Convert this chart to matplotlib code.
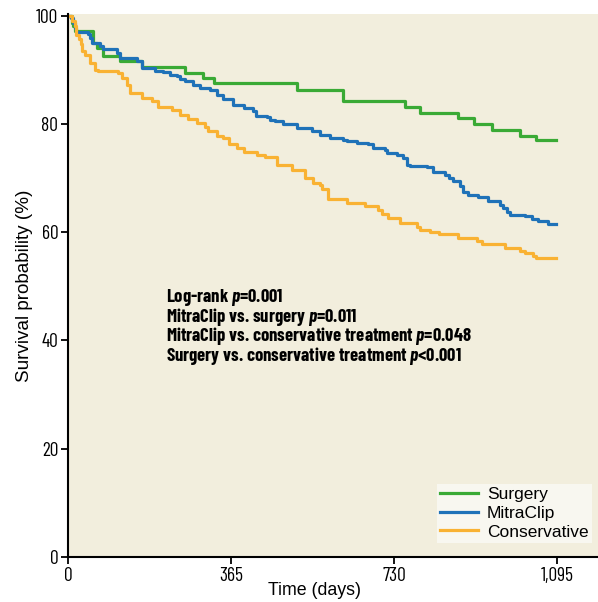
import matplotlib
matplotlib.use("Agg")
import matplotlib.pyplot as plt
from matplotlib import font_manager

# condensed face for ticks / annotation
names = set(f.name for f in font_manager.fontManager.ttflist)
narrow = "Barlow Condensed" if "Barlow Condensed" in names else "DejaVu Sans"
plain = "Liberation Sans"
plt.rcParams['mathtext.fontset'] = 'custom'
plt.rcParams['mathtext.it'] = narrow + ':italic:bold'
plt.rcParams['mathtext.rm'] = narrow + ':bold'

# Kaplan-Meier steps (day, survival %)
surgery_days = [0, 8, 12, 16, 57, 65, 79, 116, 165, 262, 302, 327, 512, 615,
                755, 788, 874, 910, 949, 1012, 1048, 1093]
surgery_surv = [100, 98.7, 98.1, 97.2, 95.0, 94.0, 92.6, 91.7, 90.5, 89.4, 88.5,
                87.5, 86.2, 84.3, 83.2, 82.0, 81.0, 79.9, 78.9, 77.8, 77.0, 77.0]

mitra_days = [0, 7, 12, 16, 19, 45, 49, 53, 72, 79, 109, 116, 154, 165, 195, 213,
              228, 243, 251, 262, 281, 296, 318, 333, 348, 370, 393, 415, 422, 445,
              452, 463, 482, 512, 546, 564, 587, 616, 624, 646, 672, 684, 710, 714,
              736, 751, 758, 766, 803, 818, 844, 852, 863, 878, 885, 896, 919, 941,
              967, 975, 982, 990, 1023, 1038, 1053, 1075, 1093]
mitra_surv = [100, 99.6, 98.7, 97.8, 97.0, 96.6, 95.9, 95.0, 94.3, 93.8, 93.1, 92.2,
              91.6, 90.3, 89.8, 89.5, 89.1, 88.9, 88.3, 88.0, 87.2, 86.6, 86.2, 85.4,
              84.6, 83.5, 82.9, 82.3, 81.5, 81.3, 80.8, 80.5, 80.0, 79.2, 78.6, 78.0,
              77.4, 77.1, 76.8, 76.5, 76.2, 75.5, 75.2, 74.7, 74.3, 73.7, 72.5, 72.3,
              72.0, 71.2, 70.6, 70.0, 69.4, 68.5, 67.5, 66.9, 66.5, 65.7, 65.1, 64.5,
              63.8, 63.2, 62.9, 62.4, 62.0, 61.6, 61.6]

cons_days = [0, 8, 16, 19, 25, 28, 31, 38, 49, 60, 68, 113, 120, 131, 139, 165, 187,
             202, 232, 251, 269, 288, 307, 314, 333, 348, 360, 378, 395, 423, 441,
             467, 501, 531, 549, 564, 568, 583, 624, 665, 695, 702, 717, 743, 781,
             788, 811, 831, 874, 915, 926, 979, 1012, 1023, 1042, 1049, 1093]
cons_surv = [100, 99.0, 98.1, 96.5, 95.6, 94.7, 93.4, 92.8, 91.3, 90.0, 89.8, 89.4,
             88.5, 87.2, 85.7, 84.8, 84.2, 83.2, 82.6, 81.7, 80.9, 80.2, 79.5, 78.6,
             77.8, 77.4, 76.3, 75.5, 74.9, 74.3, 73.9, 72.5, 71.5, 70.0, 69.1, 68.8,
             68.0, 66.2, 65.4, 64.9, 64.1, 63.3, 62.7, 61.7, 60.9, 60.4, 60.0, 59.6,
             58.9, 58.3, 57.9, 57.1, 56.6, 56.1, 55.6, 55.2, 55.2]

xticks = [0, 365, 730, 1095]
xticklabels = ["0", "365", "730", "1,095"]
yticks = [0, 20, 40, 60, 80, 100]

stats_lines = ["Log-rank $p$=0.001",
               "MitraClip vs. surgery $p$=0.011",
               "MitraClip vs. conservative treatment $p$=0.048",
               "Surgery vs. conservative treatment $p$<0.001"]

W, H = 598, 602
fig = plt.figure(figsize=(W / 100, H / 100), dpi=100)
ax = fig.add_axes([68 / W, (H - 557) / H, (W - 68) / W, (557 - 14) / H])
ax.set_facecolor("#f2eedd")

lw = 2.3
ax.plot(surgery_days, surgery_surv, drawstyle="steps-post", color="#3aaa35", lw=lw, label="Surgery")
ax.plot(mitra_days, mitra_surv, drawstyle="steps-post", color="#1f72b8", lw=lw, label="MitraClip")
ax.plot(cons_days, cons_surv, drawstyle="steps-post", color="#f9b233", lw=lw, label="Conservative")

ax.set_xlim(0, (W - 68) / 0.4466)
ax.set_ylim(0, 100.3)
ax.set_xticks(xticks)
ax.set_xticklabels(xticklabels)
ax.set_yticks(yticks)
for s in ["top", "right"]:
    ax.spines[s].set_visible(False)
for s in ["left", "bottom"]:
    ax.spines[s].set_linewidth(1.5)
ax.tick_params(direction="out", length=5, width=1.3, labelsize=14, pad=2)
for lab in ax.get_xticklabels() + ax.get_yticklabels():
    lab.set_family(narrow)

ax.set_ylabel("Survival probability (%)", fontsize=13.6, family=plain)
ax.set_xlabel("Time (days)", fontsize=12.8, family=plain)
ax.yaxis.set_label_coords(-0.066, 0.5)
ax.xaxis.set_label_coords((314 - 68) / (W - 68), -0.046)

fig.text(166 / W, 1 - 327 / H, "\n".join(stats_lines), fontsize=13.4, family=narrow,
         fontweight="bold", va="center", ha="left", linespacing=0.86)

leg = ax.legend(loc="lower right", bbox_to_anchor=((592 - 68) / (W - 68), (557 - 543) / (557 - 14)),
                frameon=True, fancybox=False, framealpha=1, facecolor="#f8f7f0", edgecolor="none",
                handlelength=2.2, handletextpad=0.5, borderpad=0.2, labelspacing=0.2,
                borderaxespad=0, prop={"family": plain, "size": 12.5})

fig.savefig("out.png", dpi=100, facecolor="white")
